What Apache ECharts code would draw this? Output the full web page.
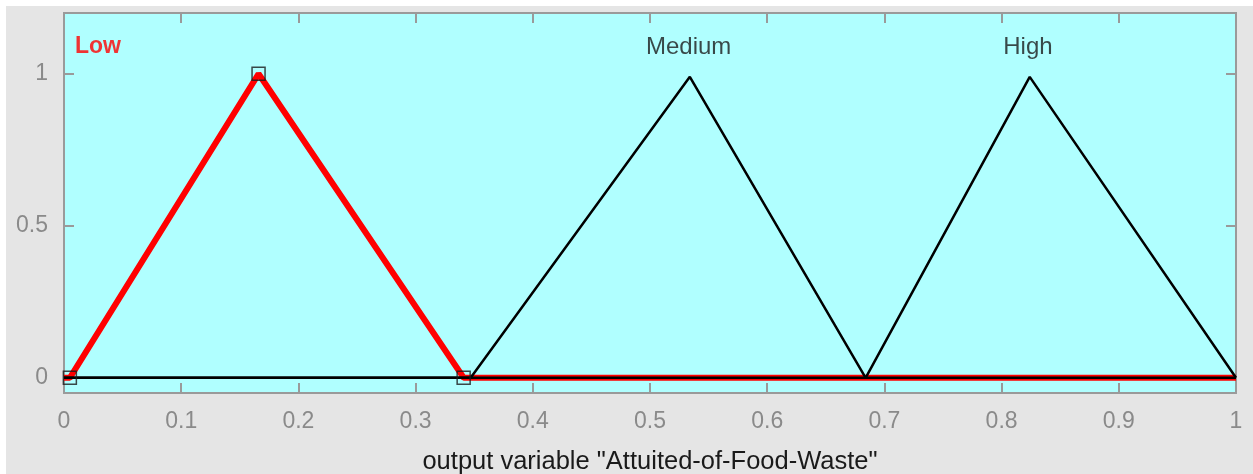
<!DOCTYPE html>
<html><head><meta charset="utf-8">
<script src="https://cdn.jsdelivr.net/npm/echarts@6/dist/echarts.min.js"></script>
<style>
html,body{margin:0;padding:0;background:#fff;}
#c{position:absolute;left:6px;top:6px;width:1247px;height:468px;background:#e5e5e5;}
</style>
</head><body><div id="c"></div>
<script>
// ---- data ----
const xTicks = [0, 0.1, 0.2, 0.3, 0.4, 0.5, 0.6, 0.7, 0.8, 0.9, 1];
const yTicks = [0, 0.5, 1];
const xName = 'output variable "Attuited-of-Food-Waste"';
const lowMF    = [[0, 0], [0.005, 0], [0.166, 1], [0.341, 0], [1, 0]];
const mediumMF = [[0, 0], [0.347, 0], [0.534, 0.99], [0.684, 0], [1, 0]];
const highMF   = [[0, 0], [0.684, 0], [0.824, 0.99], [1, 0]];
const lowParams = [[0.005, 0], [0.166, 1], [0.341, 0]];
const mfNames = ['Low', 'Medium', 'High'];
const mfLabelX = [0.0094, 0.533, 0.8225];
const mfLabelY = [1.088, 1.088, 1.088];

// ---- chart ----
const chart = echarts.init(document.getElementById('c'), null, {renderer: 'canvas'});
const axisColor = '#9a9a9a';
const tickLabelColor = '#8a8a8a';
const font = '"Liberation Sans", Arial, sans-serif';

const labelData = mfNames.map((n, i) => ({
  value: [mfLabelX[i], mfLabelY[i]],
  name: n,
  label: i === 0
    ? {color: '#ff0000', fontWeight: 'bold', align: 'left', fontSize: 23}
    : {color: '#1a1a1a', fontWeight: 'normal', align: 'center', fontSize: 24}
}));

chart.setOption({
  animation: false,
  grid: {left: 58, top: 7, right: 17, bottom: 81, show: true, containLabel: false,
         outerBoundsMode: 'none',
         backgroundColor: '#b0ffff', borderColor: axisColor, borderWidth: 2},
  xAxis: [{
    type: 'value', min: 0, max: 1, interval: 0.1, position: 'bottom',
    name: xName, nameLocation: 'middle', nameGap: 56,
    nameTextStyle: {color: '#1a1a1a', fontSize: 25.5, fontFamily: font},
    axisLine: {show: true, onZero: false, lineStyle: {color: axisColor, width: 2}},
    axisTick: {show: true, inside: true, length: 10, lineStyle: {color: axisColor, width: 2}, customValues: xTicks},
    axisLabel: {color: tickLabelColor, fontSize: 23, fontFamily: font, margin: 17,
                customValues: xTicks, formatter: v => String(+(+v).toFixed(2))},
    splitLine: {show: false}
  }, {
    type: 'value', min: 0, max: 1, interval: 0.1, position: 'top',
    axisLine: {show: true, onZero: false, lineStyle: {color: axisColor, width: 2}},
    axisTick: {show: true, inside: true, length: 10, lineStyle: {color: axisColor, width: 2}, customValues: xTicks},
    axisLabel: {show: false}, splitLine: {show: false}
  }],
  yAxis: [{
    type: 'value', min: -0.05, max: 1.2, position: 'left',
    axisLine: {show: true, onZero: false, lineStyle: {color: axisColor, width: 2}},
    axisTick: {show: true, inside: true, length: 10, lineStyle: {color: axisColor, width: 2}, customValues: yTicks},
    axisLabel: {color: tickLabelColor, fontSize: 23, fontFamily: font, margin: 16,
                customValues: yTicks, formatter: v => String(+(+v).toFixed(2))},
    splitLine: {show: false}
  }, {
    type: 'value', min: -0.05, max: 1.2, position: 'right',
    axisLine: {show: true, onZero: false, lineStyle: {color: axisColor, width: 2}},
    axisTick: {show: true, inside: true, length: 10, lineStyle: {color: axisColor, width: 2}, customValues: yTicks},
    axisLabel: {show: false}, splitLine: {show: false}
  }],
  series: [
    {type: 'line', name: 'Low', data: lowMF, symbol: 'none', z: 2,
     lineStyle: {color: '#ff0000', width: 6}},
    {type: 'line', name: 'Medium', data: mediumMF, symbol: 'none', z: 3,
     lineStyle: {color: '#000000', width: 2.5}},
    {type: 'line', name: 'High', data: highMF, symbol: 'none', z: 3,
     lineStyle: {color: '#000000', width: 2.5}},
    {type: 'scatter', data: lowParams, symbol: 'rect', symbolSize: 13, z: 4,
     itemStyle: {color: 'rgba(0,0,0,0)', borderColor: '#1a1a1a', borderWidth: 1.5}},
    {type: 'scatter', data: labelData, symbolSize: 0, z: 5,
     label: {show: true, position: 'inside', formatter: p => p.name, fontFamily: font}}
  ]
});
</script>
</body></html>
